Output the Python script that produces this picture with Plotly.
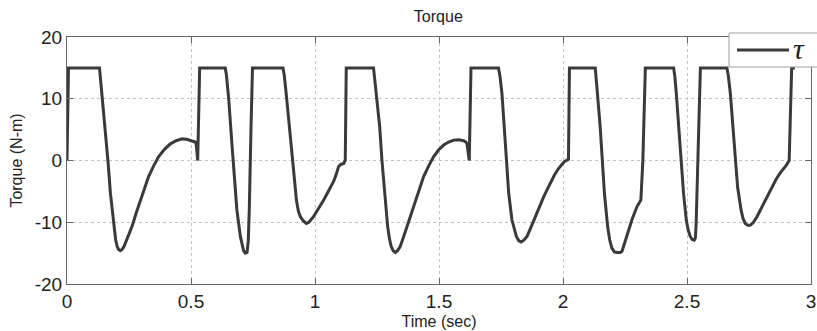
import plotly.graph_objects as go

# Time (sec) and torque (N-m)
time_s = [
    0.000, 0.006, 0.131, 0.141, 0.154, 0.165, 0.175, 0.188, 0.196, 0.202, 0.208, 0.215, 0.222,
    0.229, 0.235, 0.248, 0.262, 0.279, 0.296, 0.312, 0.329, 0.349, 0.369, 0.393, 0.417, 0.440,
    0.464, 0.482, 0.497, 0.510, 0.517, 0.521, 0.527, 0.535,
    0.638, 0.643, 0.652, 0.665, 0.675, 0.685, 0.699, 0.706, 0.712, 0.719, 0.726, 0.731, 0.735,
    0.742, 0.748,
    0.871, 0.876, 0.884, 0.898, 0.911, 0.918, 0.925, 0.933, 0.941, 0.953, 0.965, 0.975, 0.994,
    1.015, 1.035, 1.055, 1.075, 1.085, 1.095, 1.105, 1.115, 1.122, 1.126,
    1.236, 1.247, 1.261, 1.270, 1.281, 1.293, 1.300, 1.307, 1.315, 1.324, 1.333, 1.344, 1.357,
    1.371, 1.388, 1.404, 1.421, 1.438, 1.458, 1.478, 1.498, 1.519, 1.539, 1.559, 1.579, 1.599,
    1.608, 1.613, 1.622, 1.629,
    1.740, 1.746, 1.754, 1.763, 1.771, 1.781, 1.794, 1.803, 1.812, 1.822, 1.831, 1.842, 1.855,
    1.871, 1.888, 1.905, 1.922, 1.935, 1.949, 1.958, 1.962, 1.965, 1.982, 1.995, 2.005, 2.022,
    2.026,
    2.130, 2.134, 2.139, 2.150, 2.158, 2.167, 2.180, 2.188, 2.197, 2.207, 2.218, 2.231, 2.238,
    2.245, 2.258, 2.268, 2.278, 2.298, 2.308, 2.314, 2.322, 2.332,
    2.446, 2.451, 2.457, 2.466, 2.476, 2.486, 2.497, 2.505, 2.513, 2.521, 2.529, 2.534, 2.537,
    2.540, 2.547, 2.554,
    2.661, 2.667, 2.675, 2.685, 2.695, 2.704, 2.718, 2.726, 2.735, 2.745, 2.755, 2.768, 2.782,
    2.802, 2.823, 2.845, 2.860, 2.876, 2.890, 2.900, 2.912, 2.922, 2.935,
]
torque = [
    0.0, 15.0, 15.0, 10.8, 5.4, 0.0, -5.3, -10.7, -12.8, -13.9, -14.4, -14.6, -14.4,
    -14.0, -13.4, -12.2, -10.7, -8.5, -6.4, -4.4, -2.6, -0.9, 0.6, 1.8, 2.7, 3.2,
    3.5, 3.45, 3.3, 3.1, 3.0, 2.6, 0.0, 15.0,
    15.0, 13.8, 10.0, 2.7, -2.6, -8.0, -12.3, -13.8, -14.6, -15.0, -14.9, -13.0, -8.0,
    5.4, 15.0,
    15.0, 13.8, 10.8, 5.4, 0.0, -3.4, -6.4, -8.2, -9.1, -9.8, -10.2, -10.0, -9.1,
    -7.8, -6.4, -4.9, -3.4, -2.3, -1.0, -0.6, -0.5, 0.0, 15.0,
    15.0, 10.8, 5.4, 0.0, -5.3, -10.7, -12.6, -13.9, -14.6, -14.9, -14.6, -13.9, -12.4,
    -10.7, -8.4, -6.4, -4.4, -2.6, -0.9, 0.6, 1.7, 2.5, 3.0, 3.3, 3.35, 3.2,
    3.0, 2.7, 0.0, 15.0,
    15.0, 13.6, 10.8, 5.4, 0.0, -5.3, -9.6, -11.2, -12.3, -13.0, -13.2, -12.9, -12.3,
    -10.8, -9.1, -7.4, -5.9, -4.8, -3.7, -3.0, -2.6, -2.4, -1.3, -0.6, -0.2, 0.2,
    15.0,
    15.0, 13.6, 10.8, 5.4, 0.0, -5.3, -10.7, -12.8, -14.2, -14.8, -14.9, -14.9, -14.7,
    -13.8, -11.8, -10.6, -9.6, -7.5, -6.8, -6.4, 0.0, 15.0,
    15.0, 13.6, 10.8, 5.4, 0.0, -5.3, -9.6, -11.3, -12.3, -12.8, -12.9, -12.5, -10.0,
    -5.3, 5.4, 15.0,
    15.0, 13.6, 10.8, 5.4, 0.0, -4.3, -8.0, -9.4, -10.2, -10.5, -10.5, -10.0, -9.1,
    -7.5, -5.9, -4.2, -3.0, -2.0, -1.3, -0.8, 0.0, 15.0, 15.0,
]

series_name = "τ"
line_color = "#3a3a3a"

x_ticks = [0, 0.5, 1, 1.5, 2, 2.5, 3]
x_tick_labels = ["0", "0.5", "1", "1.5", "2", "2.5", "3"]
y_ticks = [-20, -10, 0, 10, 20]
y_tick_labels = ["-20", "-10", "0", "10", "20"]

fig = go.Figure()
fig.add_trace(go.Scatter(
    x=time_s, y=torque, mode="lines", name=series_name, showlegend=False,
    line=dict(color=line_color, width=3),
))

axis_common = dict(
    showline=True, linecolor="#666666", linewidth=1, mirror="allticks",
    ticks="inside", ticklen=6, tickcolor="#666666",
    showgrid=True, gridcolor="#c4c4c4", griddash="dot", gridwidth=1,
    zeroline=False, tickfont=dict(family="Liberation Sans, Arial", size=19, color="#222222"),
    automargin=False,
)

# Hand-built legend box (longer line sample, as in the reference)
legend_shapes = [
    dict(type="rect", xref="paper", yref="paper", x0=0.8898, x1=1.02, y0=0.8785, y1=1.0162,
         fillcolor="white", line=dict(color="#a0a0a0", width=1), layer="above"),
    dict(type="line", xref="paper", yref="paper", x0=0.9005, x1=0.9704, y0=0.947, y1=0.947,
         line=dict(color=line_color, width=3), layer="above"),
]
legend_text = [
    dict(text="<i>" + series_name + "</i>", xref="paper", yref="paper", x=0.9735, y=0.952,
         xanchor="left", yanchor="middle", showarrow=False,
         font=dict(family="Liberation Serif, Times New Roman", size=30, color="#222222")),
]

fig.update_layout(
    width=817, height=331,
    margin=dict(l=67, r=6, t=37, b=47),
    paper_bgcolor="white", plot_bgcolor="white",
    title=dict(text="Torque", x=0.5365, xanchor="center", y=0.949, yanchor="middle",
               yref="container",
               font=dict(family="Liberation Sans, Arial", size=16, color="#222222")),
    xaxis=dict(range=[0, 3], tickvals=x_ticks, ticktext=x_tick_labels,
               title=dict(text="Time (sec)", standoff=5,
                          font=dict(family="Liberation Sans, Arial", size=16, color="#222222")),
               **axis_common),
    yaxis=dict(range=[-20, 20], tickvals=y_ticks, ticktext=y_tick_labels,
               title=dict(text="Torque (N-m)", standoff=8,
                          font=dict(family="Liberation Sans, Arial", size=16, color="#222222")),
               **axis_common),
    showlegend=False,
    shapes=legend_shapes,
    annotations=legend_text,
)

fig.write_html("out.html", config={"displayModeBar": False},
               post_script="document.body.style.margin='0';")
